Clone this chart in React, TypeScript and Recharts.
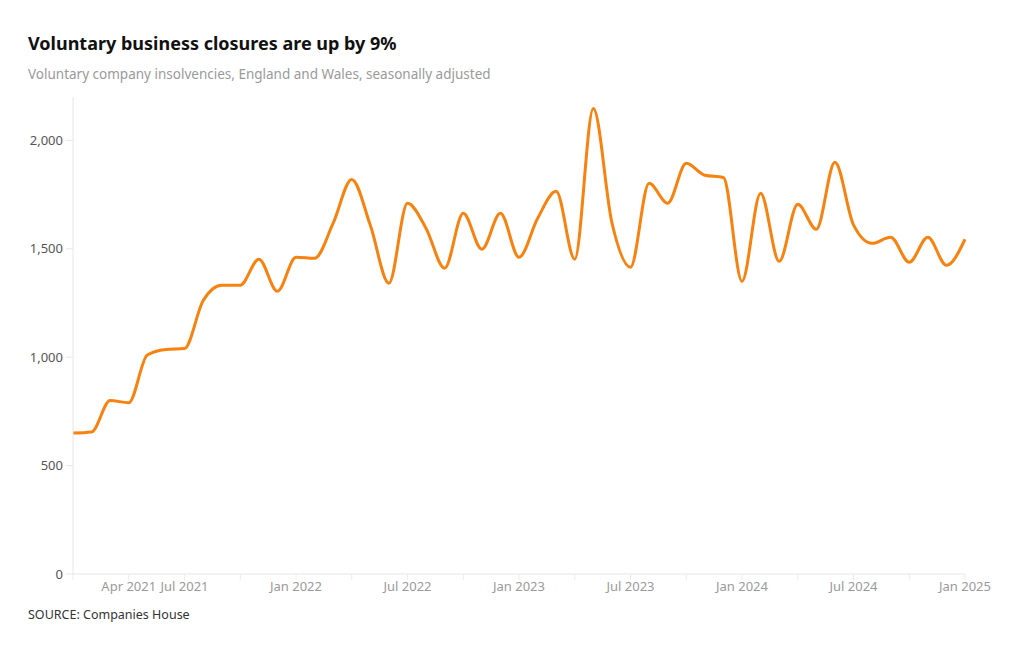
import React from "react";
import { LineChart, Line, XAxis, YAxis } from "recharts";

const months = [
  "Jan 2021", "Feb 2021", "Mar 2021", "Apr 2021", "May 2021", "Jun 2021", "Jul 2021", "Aug 2021", "Sep 2021", "Oct 2021", "Nov 2021", "Dec 2021",
  "Jan 2022", "Feb 2022", "Mar 2022", "Apr 2022", "May 2022", "Jun 2022", "Jul 2022", "Aug 2022", "Sep 2022", "Oct 2022", "Nov 2022", "Dec 2022",
  "Jan 2023", "Feb 2023", "Mar 2023", "Apr 2023", "May 2023", "Jun 2023", "Jul 2023", "Aug 2023", "Sep 2023", "Oct 2023", "Nov 2023", "Dec 2023",
  "Jan 2024", "Feb 2024", "Mar 2024", "Apr 2024", "May 2024", "Jun 2024", "Jul 2024", "Aug 2024", "Sep 2024", "Oct 2024", "Nov 2024", "Dec 2024",
  "Jan 2025",
];

const closures = [
  650, 655, 800, 790, 1010, 1035, 1040, 1260, 1332, 1332, 1452, 1304,
  1461, 1456, 1618, 1820, 1608, 1341, 1710, 1594, 1410, 1664, 1498, 1664,
  1461, 1640, 1765, 1452, 2147, 1620, 1415, 1802, 1710, 1894, 1839, 1829,
  1350, 1756, 1442, 1705, 1590, 1899, 1610, 1525, 1553, 1438, 1553, 1424,
  1544,
];

const shownLabels = ["Apr 2021", "Jul 2021", "Jan 2022", "Jul 2022", "Jan 2023", "Jul 2023", "Jan 2024", "Jul 2024", "Jan 2025"];
const yTicks = [0, 500, 1000, 1500, 2000];

const data = months.map((m, i) => ({ month: m, value: closures[i] }));

const FONT = "'Noto Sans', sans-serif";

const XTick = (props: any) => {
  const { x, y, payload } = props;
  if (!shownLabels.includes(payload.value)) return null;
  return (
    <text x={x} y={y + 9} textAnchor="middle" fill="#9a9a9a" fontSize={13} fontFamily={FONT}>
      {payload.value}
    </text>
  );
};

export default function App() {
  return (
    <div style={{ position: "relative", width: 1004, height: 634, background: "#fff", fontFamily: FONT }}>
      <div style={{ position: "absolute", left: 20, top: 23, fontSize: 18, fontWeight: 700, color: "#111" }}>
        Voluntary business closures are up by 9%
      </div>
      <div style={{ position: "absolute", left: 20, top: 57, fontSize: 13.5, color: "#9a9a9a" }}>
        Voluntary company insolvencies, England and Wales, seasonally adjusted
      </div>
      <div style={{ position: "absolute", left: 0, top: 0 }}>
        <LineChart width={1000} height={620} data={data} margin={{ top: 89, right: 43, bottom: 24, left: 0 }}>
          <XAxis
            dataKey="month"
            interval={2}
            tick={<XTick />}
            tickLine={{ stroke: "#ececec" }}
            tickSize={6}
            axisLine={{ stroke: "#e6e6e6" }}
            height={30}
          />
          <YAxis
            domain={[0, 2200]}
            ticks={yTicks}
            width={65}
            tickSize={7}
            tickMargin={3}
            tickLine={{ stroke: "#e6e6e6" }}
            axisLine={{ stroke: "#e6e6e6" }}
            tick={{ fill: "#555", fontSize: 13, fontFamily: FONT }}
            tickFormatter={(v: number) => v.toLocaleString("en-GB")}
          />
          <Line
            type="monotone"
            dataKey="value"
            stroke="#f7820f"
            strokeWidth={3}
            dot={false}
            isAnimationActive={false}
          />
        </LineChart>
      </div>
      <div style={{ position: "absolute", left: 20, top: 598, fontSize: 12.5, color: "#333" }}>
        SOURCE: Companies House
      </div>
    </div>
  );
}
